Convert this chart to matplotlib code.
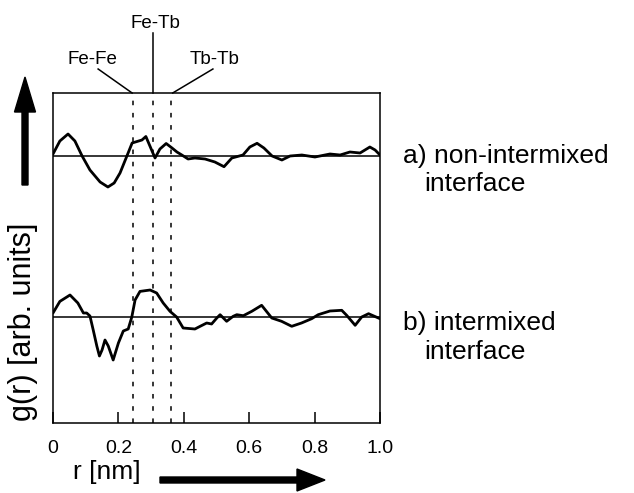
import matplotlib
matplotlib.use('Agg')
import matplotlib.pyplot as plt
from matplotlib.patches import Polygon

# radial distribution (r in nm, g in arb. units)
r_a = [0.000, 0.021, 0.046, 0.067, 0.089, 0.113, 0.144, 0.168, 0.187, 0.205,
       0.226, 0.242, 0.257, 0.272, 0.284, 0.297, 0.312, 0.327, 0.346, 0.364,
       0.379, 0.394, 0.413, 0.434, 0.465, 0.495, 0.523, 0.547, 0.581, 0.602,
       0.624, 0.645, 0.670, 0.700, 0.725, 0.761, 0.801, 0.847, 0.878, 0.908,
       0.939, 0.969, 0.985, 1.000]
g_a = [0.2, 1.5, 2.2, 1.5, 0.0, -1.4, -2.6, -3.1, -2.7, -1.7,
       0.0, 1.3, 1.45, 1.6, 1.95, 0.95, -0.2, 0.7, 1.25, 0.8,
       0.4, 0.1, -0.3, -0.2, -0.3, -0.6, -1.07, -0.2, 0.1, 0.9,
       1.27, 0.8, 0.0, -0.4, 0.0, 0.1, -0.1, 0.2, 0.1, 0.4,
       0.3, 0.9, 0.6, 0.1]

r_b = [0.000, 0.021, 0.052, 0.076, 0.093, 0.103, 0.113, 0.123, 0.134, 0.142,
       0.150, 0.159, 0.169, 0.184, 0.200, 0.215, 0.230, 0.241, 0.251, 0.266,
       0.297, 0.317, 0.337, 0.358, 0.378, 0.398, 0.434, 0.450, 0.470, 0.485,
       0.501, 0.511, 0.531, 0.551, 0.562, 0.582, 0.608, 0.638, 0.669, 0.699,
       0.730, 0.760, 0.791, 0.811, 0.847, 0.883, 0.898, 0.924, 0.944, 0.965,
       1.000]
g_b = [0.4, 1.56, 2.2, 1.4, 0.4, 0.4, 0.1, -1.3, -2.9, -3.9,
       -3.3, -2.3, -2.9, -4.3, -2.6, -1.4, -1.2, 0.0, 1.7, 2.56,
       2.7, 2.4, 1.4, 0.56, 0.0, -1.1, -1.2, -0.93, -0.6, -0.7,
       -0.1, 0.23, -0.43, 0.07, 0.23, 0.13, 0.57, 1.17, -0.1, -0.43,
       -0.93, -0.6, -0.17, 0.23, 0.6, 0.67, 0.17, -0.83, 0.0, 0.33,
       -0.17]

offset_a = 26.7
offset_b = 10.6

bonds = ['Fe-Fe', 'Fe-Tb', 'Tb-Tb']
bond_r = [0.245, 0.306, 0.361]

xticks = [0, 0.2, 0.4, 0.6, 0.8, 1.0]
xticklabels = ['0', '0.2', '0.4', '0.6', '0.8', '1.0']

plt.rcParams['font.family'] = ['Liberation Sans', 'DejaVu Sans']

W, H = 634, 493
fig = plt.figure(figsize=(W / 100, H / 100), dpi=100)
ax = fig.add_axes([53 / W, 1 - 423 / H, 327 / W, 330 / H])
ax.set_xlim(0, 1)
ax.set_ylim(0, 33)

ax.plot(r_a, [v + offset_a for v in g_a], color='black', lw=2.0,
        solid_joinstyle='round', solid_capstyle='round')
ax.plot(r_b, [v + offset_b for v in g_b], color='black', lw=2.0,
        solid_joinstyle='round', solid_capstyle='round')
ax.axhline(offset_a, color='black', lw=1.1)
ax.axhline(offset_b, color='black', lw=1.1)

for xr in bond_r:
    ax.axvline(xr, color='black', lw=1.1, linestyle=(0, (3, 5)))

for s in ax.spines.values():
    s.set_linewidth(1.1)

ax.set_xticks(xticks)
ax.set_xticklabels(xticklabels, fontsize=14)
ax.set_yticks([])
ax.tick_params(axis='x', direction='in', length=8, width=1.1, pad=12)

# leader lines and bond labels above the box
ax.plot([0.138, bond_r[0] - 0.003], [35.4, 33], color='black', lw=1.1, clip_on=False)
ax.plot([bond_r[1], bond_r[1]], [33, 39], color='black', lw=1.1, clip_on=False)
ax.plot([bond_r[2] + 0.005, 0.489], [33, 35.4], color='black', lw=1.1, clip_on=False)
ax.text(0.122, 36.3, bonds[0], ha='center', va='center', fontsize=13.5)
ax.text(0.312, 40.0, bonds[1], ha='center', va='center', fontsize=13.5)
ax.text(0.495, 36.3, bonds[2], ha='center', va='center', fontsize=13.5)


def fpt(x, y):
    return x / W, 1 - y / H


def arrow(pts):
    # pts in image pixels, y measured from top
    poly = Polygon([fpt(x, y) for x, y in pts], closed=True, color='black',
                   transform=fig.transFigure)
    fig.add_artist(poly)


arrow([(22, 185), (28, 185), (28, 112), (35.5, 112), (25, 77), (14.5, 112), (22, 112)])
arrow([(160, 477), (160, 483), (297, 483), (297, 491), (325, 480), (297, 469), (297, 477)])

fig.text(*fpt(107, 472), 'r [nm]', ha='center', va='center', fontsize=19)
fig.text(*fpt(23, 322), 'g(r) [arb. units]', ha='center', va='center',
         fontsize=22, rotation=90)

fig.text(*fpt(403, 156), 'a) non-intermixed', ha='left', va='center', fontsize=19)
fig.text(*fpt(424, 184), 'interface', ha='left', va='center', fontsize=19)
fig.text(*fpt(403, 323), 'b) intermixed', ha='left', va='center', fontsize=19)
fig.text(*fpt(424, 352), 'interface', ha='left', va='center', fontsize=19)

fig.savefig('out.png', dpi=100)
